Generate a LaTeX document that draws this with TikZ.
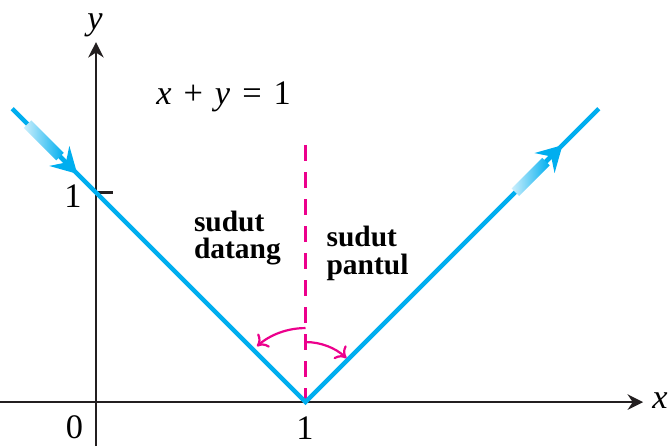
\documentclass[tikz,border=0pt]{standalone}
\usepackage{fontspec}
\setmainfont{Liberation Serif}
\usepackage{tikz}
\usetikzlibrary{arrows.meta,calc}
\definecolor{biru}{RGB}{0,174,239}
\definecolor{merahmuda}{RGB}{236,0,140}
\definecolor{hitam}{RGB}{35,31,32}

\begin{document}
\begin{tikzpicture}[x=3cm, y=3cm,
  sumbu/.style={draw=hitam, line width=1.1pt,
    -{Stealth[length=2.2mm, width=2.2mm]}},
  sinar/.style={draw=biru, line width=1.8pt},
  pita/.style={rotate=#1, anchor=west, inner sep=0pt, minimum width=0.66cm,
    minimum height=0.15cm, left color=biru!20, right color=biru},
  panah/.style={draw=biru, line width=1.8pt,
    -{Stealth[length=3.6mm, width=4mm, inset=1.3mm]}},
  sudut/.style={draw=merahmuda, line width=0.9pt,
    -{To[length=1.4mm, width=2.6mm]}},
  angka/.style={font=\fontsize{14}{16}\selectfont, inner sep=0pt},
  teks/.style={font=\fontsize{12}{11.4}\selectfont\bfseries, align=left,
    inner sep=0pt}
]
\useasboundingbox (-0.458,-0.210) rectangle (2.730,1.919);
% Titik-titik
\coordinate (O) at (0,0);
\coordinate (V) at (1,0);
\coordinate (A) at (-0.4,1.4);
\coordinate (B) at (2.4,1.4);
\coordinate (N) at (1,1.227);
\coordinate (xa) at (-0.458,0);
\coordinate (xb) at (2.611,0);
\coordinate (ya) at (0,-0.210);
\coordinate (yb) at (0,1.718);
\coordinate (T) at (0,1);
\coordinate (Tk) at (0.081,1);
% Sumbu
\draw[sumbu] (xa) -- (xb);
\draw[sumbu] (ya) -- (yb);
\draw[draw=hitam, line width=1.1pt] (T) -- (Tk);
\node[angka] (lx) at (2.692,0.005) {\textit{x}};
\node[angka] (ly) at (-0.005,1.80) {\textit{y}};
\node[angka] (nol) at (-0.103,-0.122) {0};
\node[angka] (satu) at (0.998,-0.124) {1};
\node[angka] (satuy) at (-0.110,0.983) {1};
% Garis normal
\draw[merahmuda, line width=0.9pt, dash pattern=on 6.5pt off 4.5pt] (N) -- (V);
% Sinar datang dan sinar pantul
\draw[sinar] (A) -- (V) -- (B);
\node[pita=-45] (pkiri) at ($(A)!0.051!(V)$) {};
\node[pita=45, minimum width=0.62cm] (pkanan) at ($(V)!0.714!(B)$) {};
\draw[panah] (pkiri.east) -- ($(A)!0.222!(V)$);
\draw[panah] (pkanan.east) -- ($(V)!0.876!(B)$);
% Sudut
\draw[sudut] ($(V)+(0,1.06cm)$) arc[start angle=90, end angle=131, radius=1.06cm];
\draw[sudut] ($(V)+(0,0.86cm)$) arc[start angle=90, end angle=47, radius=0.86cm];
% Teks
\node[teks] (datang) at (0.675,0.783) {sudut\\datang};
\node[teks] (pantul) at (1.296,0.711) {sudut\\pantul};
\node[angka] (garis) at (0.609,1.456) {\textit{x}\hspace{0.35em}+\hspace{0.35em}\textit{y}\hspace{0.35em}=\hspace{0.35em}1};
\end{tikzpicture}
\end{document}
